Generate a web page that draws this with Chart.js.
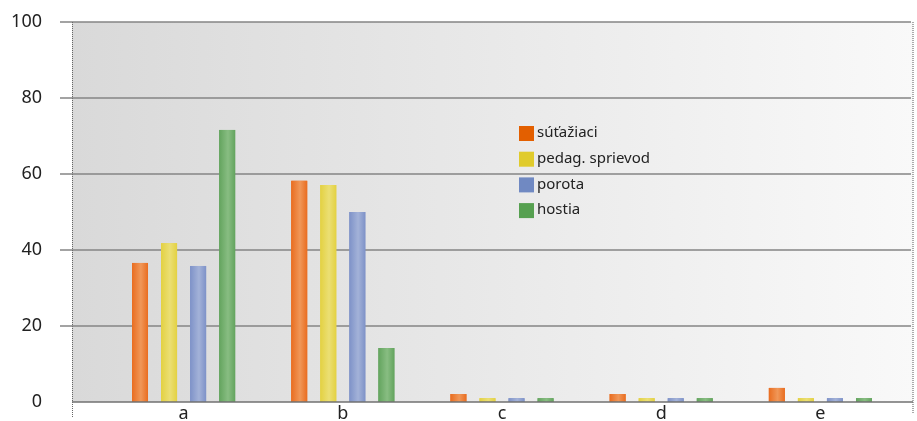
<!DOCTYPE html>
<html>
<head>
<meta charset="utf-8">
<script src="https://cdn.jsdelivr.net/npm/chart.js@4/dist/chart.umd.min.js"></script>
<style>
    html, body { margin: 0; padding: 0; background: #fff; }
    #wrap { width: 917px; height: 421px; }
</style>
</head>
<body>
<div id="wrap"><canvas id="myChart" width="917" height="421"></canvas></div>
<script>
const categories = ['a', 'b', 'c', 'd', 'e'];
const seriesNames = ['súťažiaci', 'pedag. sprievod', 'porota', 'hostia'];
const sutaziaci = [36.6, 58.2, 2.1, 2.1, 3.7];
const pedagSprievod = [41.8, 57.1, 1.0, 1.0, 1.0];
const porota = [35.8, 50.0, 1.0, 1.0, 1.0];
const hostia = [71.6, 14.2, 1.0, 1.0, 1.0];
const yTicks = [0, 20, 40, 60, 80, 100];

const barColors = ['#e96d20', '#e3d142', '#7e92c8', '#63a45e'];
const barLights = ['#f09758', '#ebdf74', '#a3b2d8', '#88bd82'];
const legendColors = ['#e35f00', '#e0cb2c', '#7089c2', '#56a050'];

const fontFamily = "'Noto Sans', 'DejaVu Sans', sans-serif";

// background, grid lines and frame drawn behind the bars
const backdrop = {
    id: 'backdrop',
    beforeDatasetsDraw(chart) {
        const c = chart.ctx;
        const y = chart.scales.y;
        const top = y.getPixelForValue(100);
        const bottom = y.getPixelForValue(0);
        const left = 72, right = 913;
        c.save();
        const g = c.createLinearGradient(left, 0, right, 0);
        g.addColorStop(0, '#d9d9d9');
        g.addColorStop(1, '#f9f9f9');
        c.fillStyle = g;
        c.fillRect(left, top, right - left, bottom - top);

        c.strokeStyle = '#858585';
        c.lineWidth = 1.5;
        for (const v of yTicks) {
            if (v === 0) continue;
            const py = Math.round(y.getPixelForValue(v));
            c.beginPath();
            c.moveTo(60, py);
            c.lineTo(911, py);
            c.stroke();
        }
        c.setLineDash([1, 1]);
        c.lineWidth = 1;
        c.strokeStyle = '#666';
        c.beginPath();
        c.moveTo(left + 0.5, top);
        c.lineTo(left + 0.5, 418);
        c.stroke();
        c.strokeStyle = '#aaa';
        c.lineWidth = 2;
        c.beginPath();
        c.moveTo(right, top);
        c.lineTo(right, 414);
        c.stroke();
        c.restore();
    },
    afterDatasetsDraw(chart) {
        const c = chart.ctx;
        // soft shading across each bar
        chart.data.datasets.forEach((ds, i) => {
            const meta = chart.getDatasetMeta(i);
            meta.data.forEach(bar => {
                const x0 = bar.x - bar.width / 2;
                const g = c.createLinearGradient(x0, 0, x0 + bar.width, 0);
                g.addColorStop(0, barColors[i]);
                g.addColorStop(0.55, barLights[i]);
                g.addColorStop(1, barColors[i]);
                c.fillStyle = g;
                c.fillRect(x0, bar.y, bar.width, bar.base - bar.y);
            });
        });
        const y = chart.scales.y;
        const py = Math.round(y.getPixelForValue(0));
        c.save();
        c.strokeStyle = '#707070';
        c.lineWidth = 1.5;
        c.beginPath();
        c.moveTo(72, py);
        c.lineTo(913, py);
        c.stroke();
        c.restore();
    }
};

const floatingLegend = {
    id: 'floatingLegend',
    afterDraw(chart) {
        const c = chart.ctx;
        c.save();
        c.font = '15px ' + fontFamily;
        c.textBaseline = 'middle';
        chart.data.datasets.forEach((ds, i) => {
            const cy = 133 + i * 25.7;
            c.fillStyle = legendColors[i];
            c.fillRect(519, cy - 7, 15, 15);
            c.fillStyle = '#222';
            c.fillText(ds.label, 537, cy);
        });
        c.restore();
    }
};

const ctx = document.getElementById('myChart').getContext('2d');
const participantsChart = new Chart(ctx, {
    type: 'bar',
    data: {
        labels: categories,
        datasets: [sutaziaci, pedagSprievod, porota, hostia].map((d, i) => ({
            label: seriesNames[i],
            data: d,
            backgroundColor: barColors[i],
            borderWidth: 0,
            categoryPercentage: 0.73,
            barPercentage: 0.55
        }))
    },
    options: {
        responsive: false,
        animation: false,
        layout: {
            padding: { left: 0, right: 17, top: 22, bottom: 0 }
        },
        scales: {
            x: {
                grid: { display: false, drawTicks: false },
                border: { display: false },
                ticks: {
                    color: '#222',
                    padding: 1,
                    font: { family: fontFamily, size: 18 }
                },
                afterFit(scale) { scale.height = 19; }
            },
            y: {
                min: 0,
                max: 100,
                grid: { display: false, drawTicks: false },
                border: { display: false },
                afterBuildTicks(scale) {
                    scale.ticks = yTicks.map(v => ({ value: v }));
                },
                ticks: {
                    color: '#222',
                    padding: 62,
                    font: { family: fontFamily, size: 18 }
                },
                afterFit(scale) {
                    scale.width = 104;
                    scale.paddingTop = 0;
                    scale.paddingBottom = 0;
                }
            }
        },
        plugins: {
            legend: { display: false },
            tooltip: { enabled: false }
        }
    },
    plugins: [backdrop, floatingLegend]
});
</script>
</body>
</html>
